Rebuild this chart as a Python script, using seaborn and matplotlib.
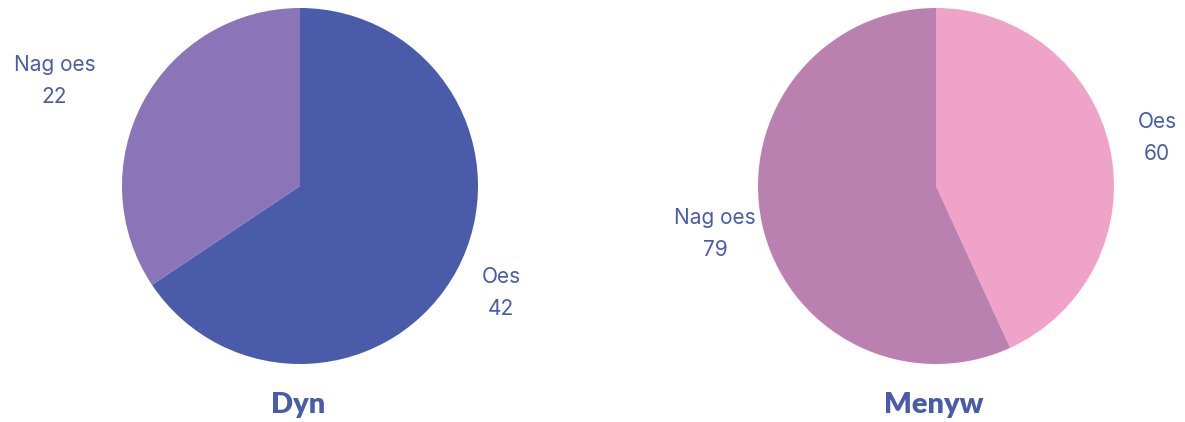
import numpy as np
import matplotlib
matplotlib.use("Agg")
import matplotlib.pyplot as plt
import seaborn as sns

sns.set_theme(style="white")
plt.rcParams['font.family'] = ['Inter', 'DejaVu Sans']

# data
groups = ["Dyn", "Menyw"]
answers = ["Oes", "Nag oes"]
dyn_counts = [42, 22]
menyw_counts = [60, 79]
dyn_colors = ["#4a5ca9", "#8b75b9"]
menyw_colors = ["#f0a3c8", "#b980b0"]
text_color = "#4a5ca9"

W, H = 1185, 422
fig = plt.figure(figsize=(W / 100, H / 100), dpi=100)


def draw_pie(cx, cy, r, counts, colors, title, dists, shifts):
    ax = fig.add_axes([(cx - r) / W, (H - cy - r) / H, 2 * r / W, 2 * r / H])
    wedges, _ = ax.pie(counts, colors=colors, startangle=90, counterclock=False,
                       radius=1.0, wedgeprops=dict(linewidth=0))
    for w, lab, n, d, s in zip(wedges, answers, counts, dists, shifts):
        # label sits outside the wedge, roughly on its middle angle
        ang = np.deg2rad((w.theta1 + w.theta2) / 2 + s)
        ax.text(d * np.cos(ang), d * np.sin(ang), f"{lab}\n{n}", ha="center", va="center",
                fontsize=15, color=text_color, linespacing=1.75)
    ax.text(-0.01, -1.23, title, ha="center", va="center", fontsize=21, fontweight="heavy",
            color=text_color, family=["Lato", "DejaVu Sans"])
    ax.set_xlim(-1, 1)
    ax.set_ylim(-1, 1)
    ax.set_aspect("equal")
    ax.axis("off")


draw_pie(300, 186, 178, dyn_counts, dyn_colors, groups[0], [1.28, 1.5], [0, 5])
draw_pie(936, 186, 178, menyw_counts, menyw_colors, groups[1], [1.27, 1.27], [0, 0])

fig.savefig("out.png", dpi=100)
